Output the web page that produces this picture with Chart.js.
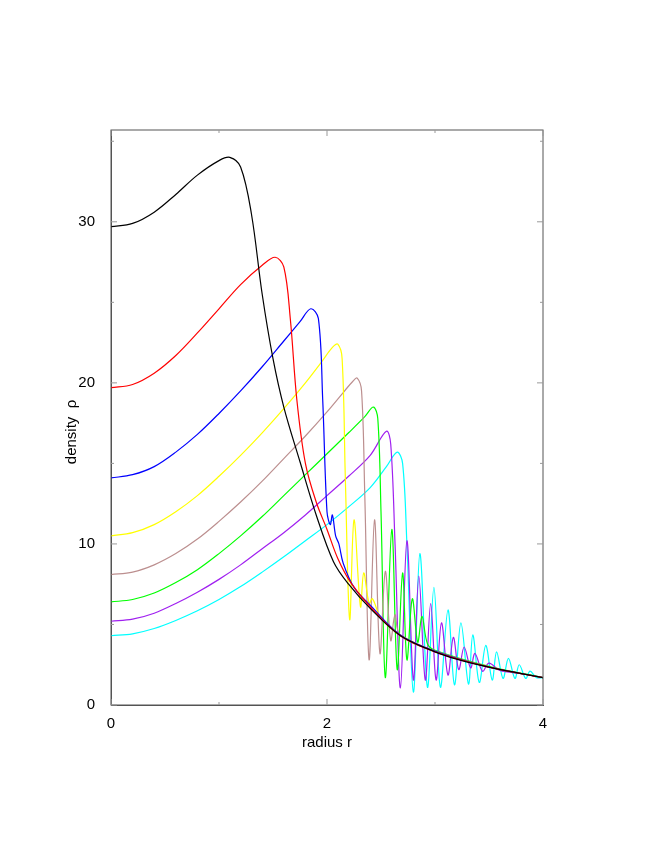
<!DOCTYPE html>
<html><head><script src="https://cdn.jsdelivr.net/npm/chart.js@4"></script>
<style>body{margin:0;background:#fff}#w{width:654px;height:846px}</style></head>
<body><div id="w"><canvas id="c"></canvas></div>
<script>
const blackR=[0,0.2,0.4,0.6,0.8,1.0,1.1,1.2,1.3,1.4,1.5,1.6,1.75,1.9,2.06,2.2,2.4,2.68,3.0,3.2,3.5,3.8,4.0];
const blackY=[29.7,29.9,30.6,31.7,32.9,33.8,34.0,33.4,30.5,25.5,21.5,18.5,15.1,11.8,8.9,7.5,6.0,4.3,3.3,2.85,2.35,1.95,1.7];
const redR=[0,0.2,0.4,0.6,0.8,1.0,1.2,1.4,1.52,1.6,1.66,1.72,1.8,1.9,2.0,2.1,2.22,2.4,2.68,3.0,3.5,4.0];
const redY=[19.7,19.9,20.6,21.7,23.1,24.6,26.1,27.3,27.8,27.2,24,19,15,12.6,10.9,9.1,7.6,6.1,4.3,3.3,2.35,1.7];
const blueR=[0,0.2,0.4,0.6,0.8,1.0,1.2,1.4,1.6,1.75,1.85,1.92,1.96,2.0,2.03,2.05,2.08,2.11,2.15,2.25,2.4,2.68,3.0,3.5,4.0];
const blueY=[14.1,14.3,14.8,15.7,16.8,18.1,19.5,21.0,22.6,23.8,24.6,24.0,19,12,11.2,11.8,10.5,10.0,8.8,7.3,6.2,4.35,3.35,2.35,1.7];
const yellowR=[0,0.2,0.4,0.6,0.8,1.0,1.2,1.4,1.6,1.8,1.95,2.05,2.1,2.14,2.17,2.21,2.25,2.31,2.34,2.39,2.42,2.5,2.68,3.0,3.5,4.0];
const yellowY=[10.5,10.7,11.2,12.0,13.0,14.2,15.5,16.9,18.4,20.0,21.3,22.2,22.4,21.5,14,5.3,11.5,6.1,8.2,6.3,6.6,5.4,4.35,3.35,2.35,1.7];
const brownR=[0,0.2,0.4,0.6,0.8,1.0,1.2,1.4,1.6,1.8,2.0,2.15,2.24,2.28,2.32,2.35,2.39,2.44,2.49,2.54,2.59,2.63,2.68,3.0,3.5,4.0];
const brownY=[8.1,8.25,8.7,9.4,10.3,11.4,12.6,13.9,15.3,16.7,18.2,19.4,20.1,20.3,19.5,13,2.8,11.5,3.2,8.3,4.0,5.6,4.3,3.35,2.35,1.7];
const greenR=[0,0.2,0.4,0.6,0.8,1.0,1.2,1.4,1.6,1.8,2.0,2.2,2.35,2.43,2.47,2.5,2.54,2.60,2.65,2.70,2.74,2.79,2.84,2.88,2.93,3.0,3.5,4.0];
const greenY=[6.4,6.55,6.95,7.6,8.4,9.4,10.5,11.7,13.0,14.3,15.6,16.9,17.9,18.5,17.8,12,1.7,10.9,2.2,8.2,2.8,6.6,3.9,5.5,3.8,3.4,2.4,1.7];
const purpleR=[0,0.2,0.4,0.6,0.8,1.0,1.2,1.4,1.6,1.8,2.0,2.2,2.4,2.55,2.59,2.63,2.68,2.74,2.80,2.85,2.91,2.96,3.01,3.06,3.12,3.17,3.22,3.27,3.33,3.37,3.44,3.5,3.6,3.8,4.0];
const purpleY=[5.2,5.33,5.7,6.3,7.0,7.8,8.7,9.7,10.7,11.8,13.0,14.2,15.5,17.0,16.2,10,1.06,10.2,1.55,8.0,1.55,6.3,1.55,5.1,1.86,4.2,2.2,3.6,2.3,3.2,2.1,2.6,2.15,1.95,1.7];
const cyanR=[0,0.2,0.4,0.6,0.8,1.0,1.2,1.4,1.6,1.8,2.0,2.2,2.4,2.55,2.65,2.70,2.74,2.80,2.86,2.93,2.99,3.05,3.12,3.18,3.24,3.31,3.35,3.41,3.47,3.53,3.57,3.63,3.68,3.74,3.78,3.84,3.88,3.94,4.0];
const cyanY=[4.3,4.42,4.75,5.25,5.85,6.55,7.35,8.25,9.2,10.2,11.2,12.3,13.5,14.8,15.7,15.0,10,0.8,9.4,1.1,7.3,1.1,5.9,1.25,5.1,1.3,4.35,1.4,3.7,1.55,3.3,1.65,2.9,1.65,2.5,1.65,2.1,1.7,1.7];
const series=[[blackR,blackY,'#000000'],[redR,redY,'#ff0000'],[blueR,blueY,'#0000ff'],[yellowR,yellowY,'#ffff00'],[brownR,brownY,'#bc8f8f'],[greenR,greenY,'#00ff00'],[purpleR,purpleY,'#a020f0'],[cyanR,cyanY,'#00ffff']];
const xTicks=[0,2,4], yTicks=[0,10,20,30];
const xMinor=[1,3], yMinor=[5,15,25,35];
const F={family:'Liberation Sans',size:15};
new Chart(document.getElementById('c'),{type:'line',
data:{datasets:series.map(s=>({data:s[0].map((r,i)=>({x:r,y:s[1][i]})),borderColor:s[2],borderWidth:1.2,pointRadius:0,tension:0.35}))},
options:{animation:false,responsive:true,maintainAspectRatio:false,
layout:{padding:{top:130,right:111,bottom:90,left:0}},
plugins:{legend:{display:false},tooltip:{enabled:false}},
scales:{
x:{type:'linear',min:0,max:4,afterFit:a=>{a.height=51},
 afterBuildTicks:a=>{a.ticks=xTicks.map(v=>({value:v}))},
 ticks:{color:'#000',font:F,padding:2},
 grid:{display:false},border:{color:'#555'},
 title:{display:true,text:'radius r',color:'#000',font:F,padding:{top:10}}},
y:{type:'linear',min:0,max:35.7,afterFit:a=>{a.width=111},
 afterBuildTicks:a=>{a.ticks=yTicks.map(v=>({value:v}))},
 ticks:{color:'#000',font:F,padding:8},
 grid:{display:false},border:{color:'#555'},
 title:{display:false,text:'density  ρ'}}}},
plugins:[{id:'box',afterDraw(c){const a=c.chartArea,g=c.ctx,x=c.scales.x,y=c.scales.y;g.save();g.strokeStyle='#555';g.lineWidth=1;g.strokeRect(a.left,a.top,a.right-a.left,a.bottom-a.top);
 g.strokeStyle='#999';g.beginPath();
 xTicks.concat(xMinor).forEach(v=>{const p=x.getPixelForValue(v),L=xTicks.includes(v)?6:3;g.moveTo(p,a.bottom);g.lineTo(p,a.bottom-L);g.moveTo(p,a.top);g.lineTo(p,a.top+L);});
 yTicks.concat(yMinor).forEach(v=>{const p=y.getPixelForValue(v),L=yTicks.includes(v)?6:3;g.moveTo(a.left,p);g.lineTo(a.left+L,p);g.moveTo(a.right,p);g.lineTo(a.right-L,p);});
 g.stroke();
 g.fillStyle='#000';g.font='15px "Liberation Sans"';g.textAlign='center';g.textBaseline='middle';
 g.translate(72,432);g.rotate(-Math.PI/2);g.fillText(y.options.title.text,0,0);
 g.restore();}}]
});
</script></body></html>
